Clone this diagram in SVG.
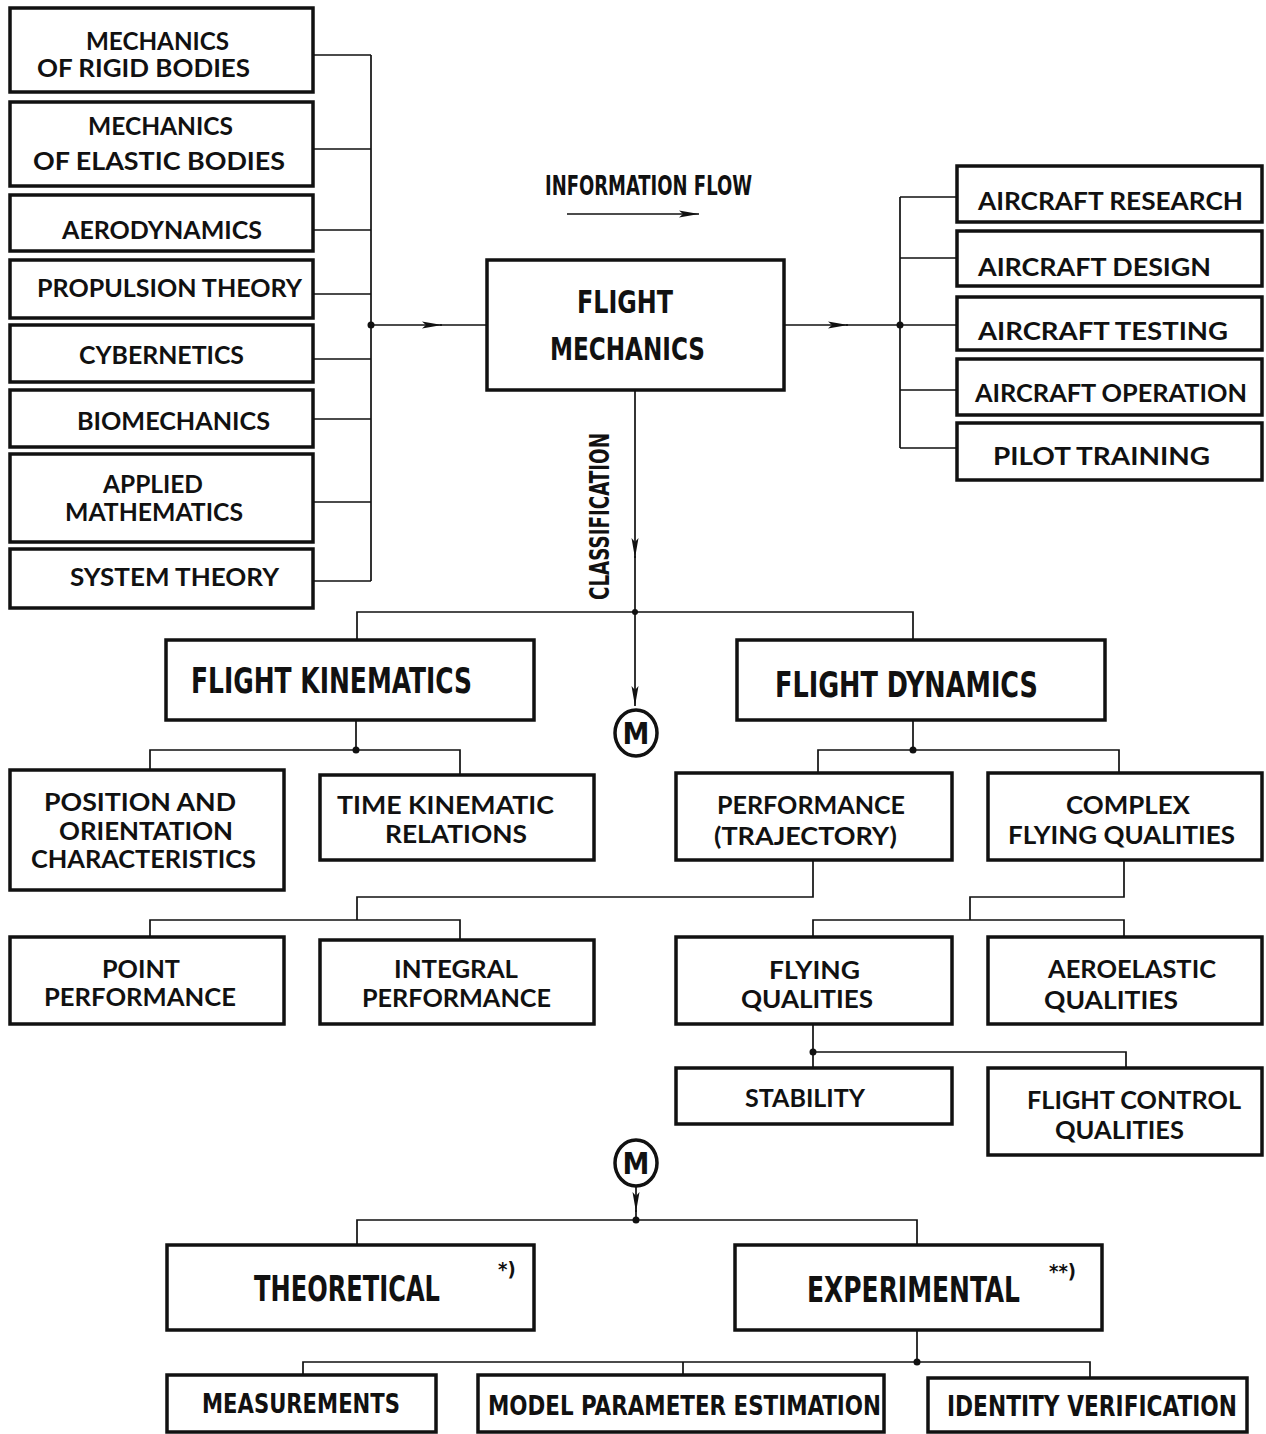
<svg xmlns="http://www.w3.org/2000/svg" width="1266" height="1434" viewBox="0 0 1266 1434">
<style>
.bx{fill:#fff;stroke:#111;stroke-width:3.5}
.ln{fill:none;stroke:#111;stroke-width:1.7}
.g{font-family:Lato,"Open Sans","Liberation Sans",sans-serif;font-weight:700;font-size:25px;fill:#111}
.c{font-family:"DejaVu Sans Condensed","Liberation Sans Narrow","Liberation Sans",sans-serif;font-stretch:condensed;font-weight:700;fill:#111}
.dot{fill:#111}
</style>
<defs>
<marker id="ah" markerUnits="userSpaceOnUse" markerWidth="24" markerHeight="12" refX="20" refY="5" orient="auto">
<path d="M0,1.5 L20,5 L0,8.5 L4,5 Z" fill="#111"/>
</marker>
</defs>
<rect width="1266" height="1434" fill="#fff"/>

<g id="connectors">
<path class="ln" d="M313,55 H371 M313,149 H371 M313,230 H371 M313,294 H371 M313,359 H371 M313,419 H371 M313,502 H371 M313,581 H371 M371,55 V581"/>
<path class="ln" d="M371,325 H442" marker-end="url(#ah)"/>
<path class="ln" d="M440,325 H487"/>
<path class="ln" d="M784,325 H848" marker-end="url(#ah)"/>
<path class="ln" d="M846,325 H957"/>
<path class="ln" d="M900,197 V448 M900,197 H957 M900,258 H957 M900,390 H957 M900,448 H957"/>
<path class="ln" d="M567,214 H699" marker-end="url(#ah)"/>
<path class="ln" d="M635,390 V558" marker-end="url(#ah)"/>
<path class="ln" d="M635,556 V612"/>
<path class="ln" d="M357,640 V612 H913 V640"/>
<path class="ln" d="M635,612 V706" marker-end="url(#ah)"/>
<path class="ln" d="M356,720 V750 M150,770 V750 H460 V775"/>
<path class="ln" d="M913,720 V750 M818,773 V750 H1119 V773"/>
<path class="ln" d="M813,860 V897 H357 V920 M150,937 V920 H460 V940"/>
<path class="ln" d="M1124,860 V897 H970 V920 M813,937 V920 H1124 V937"/>
<path class="ln" d="M813,1024 V1068 M813,1052 H1126 V1068"/>
<path class="ln" d="M636,1187 V1212" marker-end="url(#ah)"/>
<path class="ln" d="M636,1210 V1220 M357,1245 V1220 H917 V1245"/>
<path class="ln" d="M917,1330 V1362 M303,1375 V1362 H1090 V1378 M683,1362 V1375"/>
<circle class="dot" cx="371" cy="325" r="3.5"/>
<circle class="dot" cx="900" cy="325" r="3.5"/>
<circle class="dot" cx="635" cy="612" r="3"/>
<circle class="dot" cx="356" cy="750" r="3.5"/>
<circle class="dot" cx="913" cy="750" r="3.5"/>
<circle class="dot" cx="813" cy="1052" r="3.5"/>
<circle class="dot" cx="636" cy="1220" r="3.5"/>
<circle class="dot" cx="917" cy="1362" r="3.5"/>
</g>

<g id="info-flow-label">
<text class="c" x="545" y="195" font-size="27" textLength="207" lengthAdjust="spacingAndGlyphs">INFORMATION   FLOW</text>
</g>
<g id="classification-label">
<text class="c" transform="translate(609,600) rotate(-90)" x="0" y="0" font-size="26" textLength="167" lengthAdjust="spacingAndGlyphs">CLASSIFICATION</text>
</g>

<g id="n-rigid"><rect class="bx" x="10" y="8" width="303" height="84"/>
<text class="g" x="86" y="50" font-size="22" textLength="143" lengthAdjust="spacingAndGlyphs">MECHANICS</text>
<text class="g" x="37" y="77" font-size="22" textLength="213" lengthAdjust="spacingAndGlyphs">OF RIGID BODIES</text></g>
<g id="n-elastic"><rect class="bx" x="10" y="102" width="303" height="84"/>
<text class="g" x="88" y="135" textLength="145" lengthAdjust="spacingAndGlyphs">MECHANICS</text>
<text class="g" x="33" y="170" textLength="252" lengthAdjust="spacingAndGlyphs">OF  ELASTIC  BODIES</text></g>
<g id="n-aero"><rect class="bx" x="10" y="195" width="303" height="56"/>
<text class="g" x="62" y="239" textLength="200" lengthAdjust="spacingAndGlyphs">AERODYNAMICS</text></g>
<g id="n-prop"><rect class="bx" x="10" y="260" width="303" height="58"/>
<text class="g" x="37" y="297" textLength="265" lengthAdjust="spacingAndGlyphs">PROPULSION  THEORY</text></g>
<g id="n-cyber"><rect class="bx" x="10" y="325" width="303" height="57"/>
<text class="g" x="79" y="364" textLength="165" lengthAdjust="spacingAndGlyphs">CYBERNETICS</text></g>
<g id="n-bio"><rect class="bx" x="10" y="390" width="303" height="57"/>
<text class="g" x="77" y="430" textLength="193" lengthAdjust="spacingAndGlyphs">BIOMECHANICS</text></g>
<g id="n-math"><rect class="bx" x="10" y="454" width="303" height="88"/>
<text class="g" x="103" y="493" textLength="100" lengthAdjust="spacingAndGlyphs">APPLIED</text>
<text class="g" x="65" y="521" textLength="178" lengthAdjust="spacingAndGlyphs">MATHEMATICS</text></g>
<g id="n-system"><rect class="bx" x="10" y="549" width="303" height="59"/>
<text class="g" x="70" y="586" textLength="209" lengthAdjust="spacingAndGlyphs">SYSTEM   THEORY</text></g>

<g id="n-flightmech"><rect class="bx" x="487" y="260" width="297" height="130"/>
<text class="c" x="577" y="313" font-size="32" textLength="96" lengthAdjust="spacingAndGlyphs">FLIGHT</text>
<text class="c" x="550" y="360" font-size="32" textLength="155" lengthAdjust="spacingAndGlyphs">MECHANICS</text></g>

<g id="n-research"><rect class="bx" x="957" y="166" width="305" height="56"/>
<text class="g" x="978" y="210" textLength="265" lengthAdjust="spacingAndGlyphs">AIRCRAFT  RESEARCH</text></g>
<g id="n-design"><rect class="bx" x="957" y="231" width="305" height="55"/>
<text class="g" x="978" y="276" textLength="233" lengthAdjust="spacingAndGlyphs">AIRCRAFT  DESIGN</text></g>
<g id="n-testing"><rect class="bx" x="957" y="297" width="305" height="53"/>
<text class="g" x="978" y="340" textLength="250" lengthAdjust="spacingAndGlyphs">AIRCRAFT   TESTING</text></g>
<g id="n-operation"><rect class="bx" x="957" y="359" width="305" height="56"/>
<text class="g" x="975" y="402" textLength="272" lengthAdjust="spacingAndGlyphs">AIRCRAFT OPERATION</text></g>
<g id="n-pilot"><rect class="bx" x="957" y="423" width="305" height="57"/>
<text class="g" x="993" y="465" textLength="217" lengthAdjust="spacingAndGlyphs">PILOT   TRAINING</text></g>

<g id="n-kinematics"><rect class="bx" x="166" y="640" width="368" height="80"/>
<text class="c" x="191" y="693" font-size="36" textLength="281" lengthAdjust="spacingAndGlyphs">FLIGHT   KINEMATICS</text></g>
<g id="n-dynamics"><rect class="bx" x="737" y="640" width="368" height="80"/>
<text class="c" x="775" y="697" font-size="36" textLength="263" lengthAdjust="spacingAndGlyphs">FLIGHT   DYNAMICS</text></g>

<g id="m1"><ellipse cx="636" cy="733" rx="21" ry="23" fill="#fff" stroke="#111" stroke-width="3.5"/>
<text class="c" x="636" y="744" font-size="30" text-anchor="middle">M</text></g>

<g id="n-position"><rect class="bx" x="10" y="770" width="274" height="120"/>
<text class="g" x="44" y="811" textLength="192" lengthAdjust="spacingAndGlyphs">POSITION  AND</text>
<text class="g" x="59" y="840" textLength="174" lengthAdjust="spacingAndGlyphs">ORIENTATION</text>
<text class="g" x="31" y="868" textLength="225" lengthAdjust="spacingAndGlyphs">CHARACTERISTICS</text></g>
<g id="n-time"><rect class="bx" x="320" y="775" width="274" height="85"/>
<text class="g" x="337" y="814" textLength="217" lengthAdjust="spacingAndGlyphs">TIME  KINEMATIC</text>
<text class="g" x="385" y="843" textLength="142" lengthAdjust="spacingAndGlyphs">RELATIONS</text></g>
<g id="n-performance"><rect class="bx" x="676" y="773" width="276" height="87"/>
<text class="g" x="717" y="814" textLength="188" lengthAdjust="spacingAndGlyphs">PERFORMANCE</text>
<text class="g" x="714" y="845" textLength="183" lengthAdjust="spacingAndGlyphs">(TRAJECTORY)</text></g>
<g id="n-complex"><rect class="bx" x="988" y="773" width="274" height="87"/>
<text class="g" x="1066" y="814" textLength="124" lengthAdjust="spacingAndGlyphs">COMPLEX</text>
<text class="g" x="1008" y="844" textLength="227" lengthAdjust="spacingAndGlyphs">FLYING QUALITIES</text></g>

<g id="n-point"><rect class="bx" x="10" y="937" width="274" height="87"/>
<text class="g" x="102" y="978" textLength="78" lengthAdjust="spacingAndGlyphs">POINT</text>
<text class="g" x="44" y="1006" textLength="192" lengthAdjust="spacingAndGlyphs">PERFORMANCE</text></g>
<g id="n-integral"><rect class="bx" x="320" y="940" width="274" height="84"/>
<text class="g" x="394" y="978" textLength="124" lengthAdjust="spacingAndGlyphs">INTEGRAL</text>
<text class="g" x="362" y="1007" textLength="189" lengthAdjust="spacingAndGlyphs">PERFORMANCE</text></g>
<g id="n-flying"><rect class="bx" x="676" y="937" width="276" height="87"/>
<text class="g" x="769" y="979" textLength="91" lengthAdjust="spacingAndGlyphs">FLYING</text>
<text class="g" x="741" y="1008" textLength="132" lengthAdjust="spacingAndGlyphs">QUALITIES</text></g>
<g id="n-aeroelastic"><rect class="bx" x="988" y="937" width="274" height="87"/>
<text class="g" x="1048" y="978" textLength="168" lengthAdjust="spacingAndGlyphs">AEROELASTIC</text>
<text class="g" x="1044" y="1009" textLength="134" lengthAdjust="spacingAndGlyphs">QUALITIES</text></g>
<g id="n-stability"><rect class="bx" x="676" y="1068" width="276" height="56"/>
<text class="g" x="745" y="1107" textLength="120" lengthAdjust="spacingAndGlyphs">STABILITY</text></g>
<g id="n-control"><rect class="bx" x="988" y="1068" width="274" height="87"/>
<text class="g" x="1027" y="1109" textLength="214" lengthAdjust="spacingAndGlyphs">FLIGHT CONTROL</text>
<text class="g" x="1055" y="1139" textLength="129" lengthAdjust="spacingAndGlyphs">QUALITIES</text></g>

<g id="m2"><ellipse cx="636" cy="1163" rx="21" ry="23" fill="#fff" stroke="#111" stroke-width="3.5"/>
<text class="c" x="636" y="1174" font-size="30" text-anchor="middle">M</text></g>

<g id="n-theoretical"><rect class="bx" x="167" y="1245" width="367" height="85"/>
<text class="c" transform="translate(254,1301) scale(1,1.33)" x="0" y="0" font-size="26.5" textLength="186" lengthAdjust="spacingAndGlyphs">THEORETICAL</text>
<text class="c" x="498" y="1276" font-size="20">*)</text></g>
<g id="n-experimental"><rect class="bx" x="735" y="1245" width="367" height="85"/>
<text class="c" transform="translate(807,1302) scale(1,1.3)" x="0" y="0" font-size="27" textLength="213" lengthAdjust="spacingAndGlyphs">EXPERIMENTAL</text>
<text class="c" x="1049" y="1278" font-size="20">**)</text></g>

<g id="n-measure"><rect class="bx" x="167" y="1375" width="269" height="57"/>
<text class="c" x="202" y="1413" font-size="26" textLength="198" lengthAdjust="spacingAndGlyphs">MEASUREMENTS</text></g>
<g id="n-model"><rect class="bx" x="478" y="1375" width="406" height="57"/>
<text class="c" transform="translate(488,1415) scale(1,1.15)" x="0" y="0" font-size="23.5" textLength="393" lengthAdjust="spacingAndGlyphs">MODEL  PARAMETER ESTIMATION</text></g>
<g id="n-identity"><rect class="bx" x="928" y="1378" width="319" height="54"/>
<text class="c" transform="translate(947,1416) scale(1,1.2)" x="0" y="0" font-size="23" textLength="290" lengthAdjust="spacingAndGlyphs">IDENTITY  VERIFICATION</text></g>
</svg>
